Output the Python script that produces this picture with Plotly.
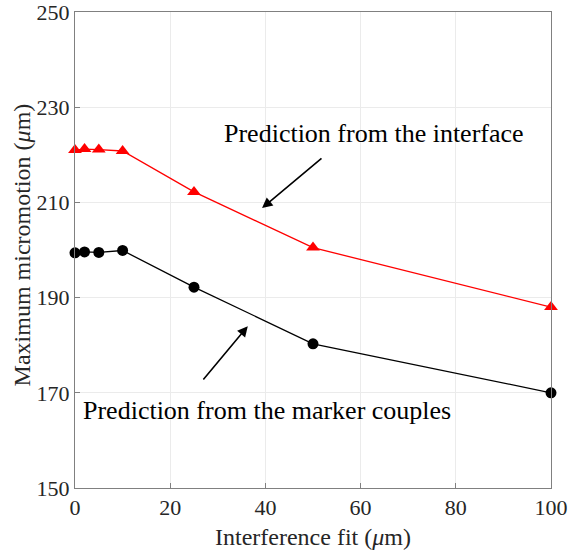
import plotly.graph_objects as go

fit = [0, 2, 5, 10, 25, 50, 100]
interface = [221.0, 221.2, 221.1, 220.8, 212.2, 200.5, 188.0]
markers = [199.4, 199.6, 199.5, 199.9, 192.2, 180.3, 170.0]
xticks = [0, 20, 40, 60, 80, 100]
yticks = [150, 170, 190, 210, 230, 250]

FONT = "Liberation Serif"
TXT = "#262626"
fig = go.Figure()
fig.add_trace(go.Scatter(x=fit, y=interface, mode="lines+markers",
                         line=dict(color="#ff0000", width=1.3),
                         marker=dict(symbol="triangle-up", size=12, color="#ff0000"),
                         cliponaxis=False, showlegend=False))
fig.add_trace(go.Scatter(x=fit, y=markers, mode="lines+markers",
                         line=dict(color="#000000", width=1.3),
                         marker=dict(symbol="circle", size=11, color="#000000"),
                         cliponaxis=False, showlegend=False))

fig.add_annotation(x=39.3, y=208.8, ax=52.1, ay=219.5, xref="x", yref="y",
                   axref="x", ayref="y", showarrow=True, arrowhead=2,
                   arrowsize=1.3, arrowwidth=1.6, arrowcolor="black", text="")
fig.add_annotation(x=36.3, y=184.0, ax=26.7, ay=172.5, xref="x", yref="y",
                   axref="x", ayref="y", showarrow=True, arrowhead=2,
                   arrowsize=1.3, arrowwidth=1.6, arrowcolor="black", text="")
fig.add_annotation(x=62.9, y=224.4, xref="x", yref="y", showarrow=False,
                   text="Prediction from the interface",
                   font=dict(family=FONT, size=26, color="black"))
fig.add_annotation(x=40.4, y=166.2, xref="x", yref="y", showarrow=False,
                   text="Prediction from the marker couples",
                   font=dict(family=FONT, size=26, color="black"))

# axis titles
fig.add_annotation(x=0.5, y=-0.103, xref="paper", yref="paper", showarrow=False,
                   text="Interference fit (<i>μ</i>m)", yanchor="middle",
                   font=dict(family=FONT, size=24, color=TXT))
fig.add_annotation(x=-0.111, y=0.51, xref="paper", yref="paper", showarrow=False,
                   text="Maximum micromotion (<i>μ</i>m)", textangle=-90,
                   xanchor="center", yanchor="middle",
                   font=dict(family=FONT, size=24, color=TXT))

axis_common = dict(showline=True, linecolor="#808080", linewidth=1, mirror=True,
                   ticks="inside", ticklen=5, tickcolor="#808080", automargin=False,
                   ticklabeloverflow="allow",
                   showgrid=True, gridcolor="#ebebeb", gridwidth=1, zeroline=False,
                   tickfont=dict(family=FONT, size=22, color=TXT))
fig.update_xaxes(range=[0, 100], tickvals=xticks, **axis_common)
fig.update_yaxes(range=[150, 250], tickvals=yticks, **axis_common)
fig.update_layout(width=569, height=550, plot_bgcolor="white", paper_bgcolor="white",
                  margin=dict(l=75, r=18, t=12, b=62))
fig.write_html("out.html", config={"displayModeBar": False},
               post_script="document.body.style.margin='0';document.body.style.overflow='hidden';")
